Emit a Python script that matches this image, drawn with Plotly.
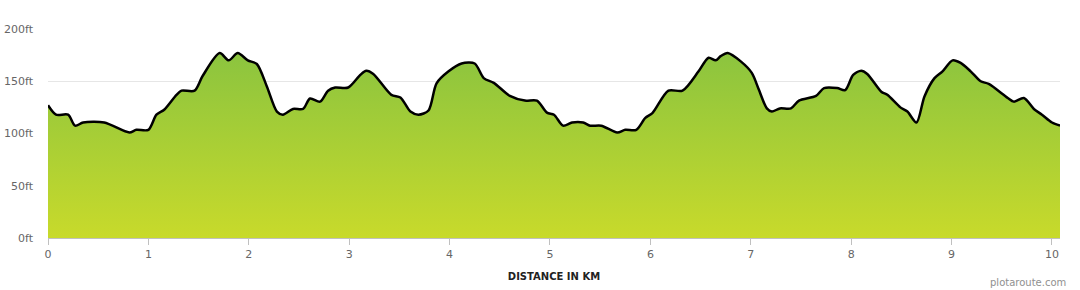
import plotly.graph_objects as go

distance_km = [0.00, 0.08, 0.20, 0.27, 0.35, 0.56, 0.81, 0.88, 1.00, 1.08, 1.16, 1.28, 1.33, 1.46,
               1.54, 1.71, 1.80, 1.89, 1.99, 2.08, 2.18, 2.28, 2.34, 2.44, 2.54, 2.61, 2.71, 2.79,
               2.86, 2.99, 3.11, 3.17, 3.24, 3.42, 3.51, 3.61, 3.69, 3.79, 3.87, 3.99, 4.12, 4.25,
               4.34, 4.44, 4.60, 4.75, 4.87, 4.97, 5.04, 5.13, 5.22, 5.33, 5.40, 5.51, 5.67, 5.75,
               5.86, 5.95, 6.02, 6.18, 6.32, 6.48, 6.58, 6.65, 6.70, 6.77, 6.90, 7.01, 7.08, 7.16,
               7.21, 7.29, 7.40, 7.48, 7.65, 7.73, 7.86, 7.94, 8.02, 8.10, 8.16, 8.30, 8.36, 8.49,
               8.56, 8.65, 8.73, 8.83, 8.91, 9.01, 9.09, 9.19, 9.29, 9.37, 9.56, 9.62, 9.72, 9.82,
               9.90, 10.00, 10.08]
elevation_ft = [127, 118, 118, 107.5, 110.5, 110.5, 101, 103.5, 103.5, 118, 123, 137, 141, 141,
                155, 177, 170, 177, 170, 166.5, 145, 121, 118, 123.5, 123.5, 133.5, 130.5, 141,
                144, 144, 156, 160, 157, 137, 134.5, 121, 118, 122, 148, 159.5, 167, 167,
                153, 148.5, 136, 131.5, 131.5, 120, 118, 107.5, 110.5, 110.5, 107.5, 107.5, 101, 103.5,
                103.5, 115, 119.5, 141, 141, 159.5, 172.5, 170, 174, 177, 169, 158, 142, 124,
                121, 124, 124, 131.5, 136, 143.5, 143.5, 141.5, 156, 160, 157, 140, 137, 125,
                121, 110.5, 135.5, 153, 159.5, 170, 167.5, 159.5, 150, 147.5, 134, 130.5, 134, 123.5,
                118, 110.5, 107.5]
y_ticks = [0, 50, 100, 150, 200]
y_tick_labels = ["0ft", "50ft", "100ft", "150ft", "200ft"]
x_ticks = list(range(0, 11))
x_tick_labels = [str(v) for v in x_ticks]

fig = go.Figure()
fig.add_trace(go.Scatter(
    x=distance_km, y=elevation_ft, mode="lines",
    line=dict(color="#000000", width=2.5, shape="spline", smoothing=0.8),
    fill="tozeroy",
    fillgradient=dict(type="vertical", start=0, stop=178,
                      colorscale=[[0, "#c8da2b"], [1, "#8bc43f"]]),
    hoverinfo="skip", showlegend=False,
))

font = "DejaVu Sans, Verdana, sans-serif"
fig.update_layout(
    width=1080, height=290,
    margin=dict(l=48, r=20, t=29, b=52),
    paper_bgcolor="white", plot_bgcolor="white",
    font=dict(family=font, size=11, color="#666666"),
    xaxis=dict(
        range=[0, 10.08], tickvals=x_ticks, ticktext=x_tick_labels,
        showgrid=False, zeroline=False, automargin=False,
        showline=True, linecolor="#c0c0c0", linewidth=1,
        ticks="outside", ticklen=6, tickcolor="#c0c0c0", tickwidth=1,
        tickfont=dict(family=font, size=11, color="#666666"),
        title=dict(text="<b>DISTANCE IN KM</b>", standoff=12,
                   font=dict(family=font, size=10, color="#222222")),
    ),
    yaxis=dict(
        range=[0, 200], tickvals=y_ticks, ticktext=y_tick_labels,
        showgrid=True, gridcolor="#e6e6e6", gridwidth=1,
        zeroline=False, showline=False, automargin=False,
        ticklabelstandoff=14,
        tickfont=dict(family=font, size=11, color="#666666"),
    ),
    annotations=[dict(
        text="plotaroute.com", xref="paper", yref="paper",
        x=1.008, y=-0.212, xanchor="right", yanchor="middle", showarrow=False,
        font=dict(family=font, size=10, color="#909090"),
    )],
)

fig.write_html("out.html")
